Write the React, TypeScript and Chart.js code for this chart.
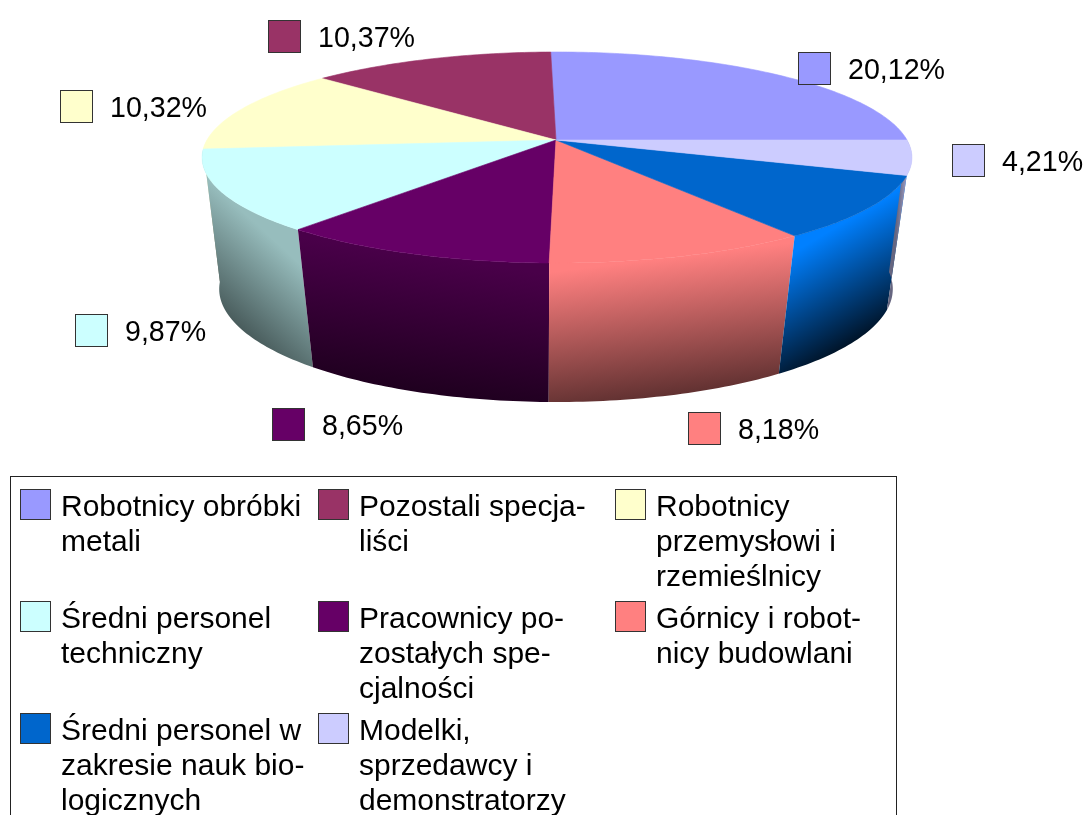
import React, { useEffect, useRef } from "react";
import { Chart, registerables } from "chart.js";

Chart.register(...registerables);

const categories = [
  ["Robotnicy obróbki", "metali"],
  ["Pozostali specja-", "liści"],
  ["Robotnicy", "przemysłowi i", "rzemieślnicy"],
  ["Średni personel", "techniczny"],
  ["Pracownicy po-", "zostałych spe-", "cjalności"],
  ["Górnicy i robot-", "nicy budowlani"],
  ["Średni personel w", "zakresie nauk bio-", "logicznych"],
  ["Modelki,", "sprzedawcy i", "demonstratorzy"],
];
const values = [20.12, 10.37, 10.32, 9.87, 8.65, 8.18, 7.7, 4.21];
const valueLabels = ["20,12%", "10,37%", "10,32%", "9,87%", "8,65%", "8,18%", null, "4,21%"];
const colors = ["#9999FF", "#993366", "#FFFFCC", "#CCFFFF", "#660066", "#FF8080", "#0066CC", "#CCCCFF"];

// wall shading factors (top, bottom) per slice
const wallTop = [1, 1, 1, 0.74, 0.72, 1, 1.25, 0.9];
const wallBottom = [0.4, 0.4, 0.4, 0.36, 0.3, 0.38, 0.2, 0.5];

// layout of the value labels [swatch x, swatch y]
const labelBoxes: ([number, number] | null)[] = [
  [798, 52], [268, 20], [60, 90], [75, 314], [272, 408], [688, 412], null, [952, 144],
];
const legendCols = [20, 318, 615];
const legendRows = [489, 601, 713];

const FONT = '"Liberation Sans", Arial, sans-serif';

type Disc = { cx: number; y0: number; b: number; a: number; k: number };
const topDisc: Disc = { cx: 557, y0: 140, b: 350, a: 102.6, k: 0.166 };
const bottomDisc: Disc = { cx: 556, y0: 272, b: 333, a: 110.5, k: 0.15 };

function project(d: Disc, angle: number): [number, number] {
  const u = Math.cos(angle);
  const v = Math.sin(angle);
  const w = 1 + d.k * v;
  return [d.cx + (d.b * u) / w, d.y0 - (d.a * v) / w];
}

function shade(hex: string, f: number): string {
  const n = parseInt(hex.slice(1), 16);
  const c = [(n >> 16) & 255, (n >> 8) & 255, n & 255].map((x) => Math.min(255, Math.round(x * f)));
  return `rgb(${c[0]},${c[1]},${c[2]})`;
}

const pie3d = {
  id: "pie3d",
  beforeDatasetDraw(chart: any) {
    const ctx: CanvasRenderingContext2D = chart.ctx;
    const arcs = chart.getDatasetMeta(0).data;
    const TAU = Math.PI * 2;
    const step = Math.PI / 180;
    ctx.save();
    // outer walls
    arcs.forEach((arc: any, i: number) => {
      let s = arc.startAngle;
      let e = arc.endAngle;
      s = Math.max(s, Math.PI);
      e = Math.min(e, TAU + 0.03);
      if (e <= s) return;
      const tops: [number, number][] = [];
      const bots: [number, number][] = [];
      for (let a = s; a < e; a += step) {
        tops.push(project(topDisc, a));
        bots.push(project(bottomDisc, a));
      }
      tops.push(project(topDisc, e));
      bots.push(project(bottomDisc, e));
      const b1 = bots[0];
      const b2 = bots[bots.length - 1];
      const bm = project(bottomDisc, (s + e) / 2);
      const tm = project(topDisc, (s + e) / 2);
      let nx = -(b2[1] - b1[1]);
      let ny = b2[0] - b1[0];
      const len = Math.hypot(nx, ny) || 1;
      nx /= len;
      ny /= len;
      if (ny < 0) { nx = -nx; ny = -ny; }
      const dist = (bm[0] - tm[0]) * nx + (bm[1] - tm[1]) * ny;
      const g = ctx.createLinearGradient(bm[0] - nx * dist, bm[1] - ny * dist, bm[0], bm[1]);
      g.addColorStop(0, shade(colors[i], wallTop[i]));
      g.addColorStop(1, shade(colors[i], wallBottom[i]));
      ctx.beginPath();
      tops.forEach((p, j) => (j ? ctx.lineTo(p[0], p[1]) : ctx.moveTo(p[0], p[1])));
      bots.reverse().forEach((p) => ctx.lineTo(p[0], p[1]));
      ctx.closePath();
      ctx.fillStyle = g;
      ctx.fill();
    });
    // top faces
    arcs.forEach((arc: any, i: number) => {
      ctx.beginPath();
      ctx.moveTo(topDisc.cx - 1, topDisc.y0);
      for (let a = arc.startAngle; a < arc.endAngle; a += step) {
        const p = project(topDisc, a);
        ctx.lineTo(p[0], p[1]);
      }
      const p = project(topDisc, arc.endAngle);
      ctx.lineTo(p[0], p[1]);
      ctx.closePath();
      ctx.fillStyle = colors[i];
      ctx.strokeStyle = colors[i];
      ctx.lineWidth = 0.6;
      ctx.fill();
      ctx.stroke();
    });
    ctx.restore();
    return false;
  },
  afterDraw(chart: any) {
    const ctx: CanvasRenderingContext2D = chart.ctx;
    ctx.save();
    ctx.textBaseline = "alphabetic";
    ctx.textAlign = "left";
    ctx.fillStyle = "#000";
    const swatch = (x: number, y: number, s: number, c: string) => {
      ctx.fillStyle = c;
      ctx.fillRect(x, y, s, s);
      ctx.strokeStyle = "#333";
      ctx.lineWidth = 1;
      ctx.strokeRect(x + 0.5, y + 0.5, s - 1, s - 1);
    };
    // value labels
    ctx.font = `28.6px ${FONT}`;
    valueLabels.forEach((t, i) => {
      const b = labelBoxes[i];
      if (!t || !b) return;
      swatch(b[0], b[1], 33, colors[i]);
      ctx.fillStyle = "#000";
      ctx.fillText(t, b[0] + 50, b[1] + 27);
    });
    // legend box
    ctx.strokeStyle = "#222";
    ctx.lineWidth = 1;
    ctx.strokeRect(10.5, 476.5, 886, 400);
    ctx.font = `30px ${FONT}`;
    categories.forEach((lines, i) => {
      const x = legendCols[i % 3];
      const y = legendRows[Math.floor(i / 3)];
      swatch(x, y, 31, colors[i]);
      ctx.fillStyle = "#000";
      lines.forEach((l, j) => ctx.fillText(l, x + 41, y + 27 + j * 35));
    });
    ctx.restore();
  },
};

export default function App() {
  const ref = useRef<HTMLCanvasElement>(null);
  useEffect(() => {
    const chart = new Chart(ref.current!, {
      type: "pie",
      data: {
        labels: categories.map((c) => c.join(" ")),
        datasets: [{ data: values, backgroundColor: colors, borderWidth: 0 }],
      },
      options: {
        animation: false,
        responsive: false,
        rotation: 90,
        plugins: { legend: { display: false }, tooltip: { enabled: false } },
      },
      plugins: [pie3d as any],
    });
    return () => chart.destroy();
  }, []);
  return (
    <canvas
      ref={ref}
      width={1085}
      height={815}
      style={{ position: "absolute", left: 0, top: 0, display: "block" }}
    />
  );
}
